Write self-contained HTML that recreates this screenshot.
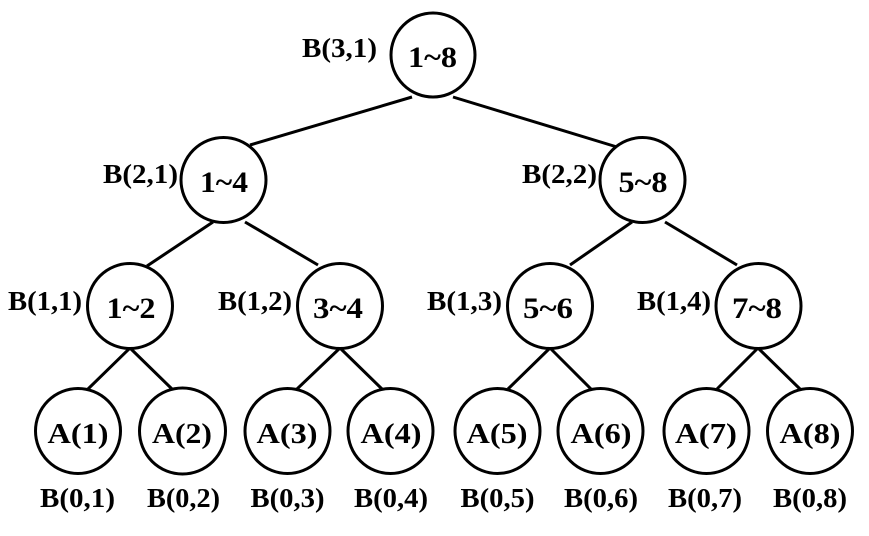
<!DOCTYPE html>
<html>
<head>
<meta charset="utf-8">
<style>
html,body{margin:0;padding:0;background:#fff;}
svg{display:block;}
text{font-family:"Liberation Serif",serif;font-weight:bold;fill:#000;}
</style>
</head>
<body>
<svg width="869" height="536" viewBox="0 0 869 536" xmlns="http://www.w3.org/2000/svg">
<g stroke="#000" stroke-width="3" fill="none" stroke-linecap="butt">
<line x1="412" y1="97" x2="250" y2="145"/>
<line x1="453" y1="97" x2="617" y2="147"/>
<line x1="213" y1="222" x2="147" y2="266"/>
<line x1="245" y1="222" x2="318" y2="265"/>
<line x1="632" y1="222" x2="570" y2="265"/>
<line x1="665" y1="222" x2="737" y2="265"/>
<line x1="130" y1="348" x2="88" y2="389"/>
<line x1="130" y1="348" x2="172" y2="389"/>
<line x1="340" y1="348" x2="297" y2="389"/>
<line x1="340" y1="348" x2="382" y2="389"/>
<line x1="550" y1="348" x2="508" y2="389"/>
<line x1="550" y1="348" x2="591" y2="389"/>
<line x1="758" y1="348" x2="717" y2="389"/>
<line x1="758" y1="348" x2="800" y2="389"/>
<circle cx="433" cy="55" r="42"/>
<circle cx="223.5" cy="180" r="42.5"/>
<circle cx="642.5" cy="180" r="42.5"/>
<circle cx="130" cy="306" r="42.5"/>
<circle cx="340" cy="306" r="42.5"/>
<circle cx="550" cy="306" r="42.5"/>
<circle cx="758.5" cy="306" r="42.5"/>
<circle cx="78" cy="431" r="42.5"/>
<circle cx="182.5" cy="431" r="43"/>
<circle cx="287.5" cy="431" r="42.5"/>
<circle cx="390.5" cy="431" r="42.5"/>
<circle cx="497.5" cy="431" r="42.5"/>
<circle cx="600.5" cy="431" r="42.5"/>
<circle cx="706.5" cy="431" r="42.5"/>
<circle cx="810" cy="431" r="42.5"/>
</g>
<g font-size="30" text-anchor="middle">
<text x="432.5" y="67" textLength="49" lengthAdjust="spacingAndGlyphs">1~8</text>
<text x="224" y="192" textLength="48" lengthAdjust="spacingAndGlyphs">1~4</text>
<text x="643" y="192" textLength="49" lengthAdjust="spacingAndGlyphs">5~8</text>
<text x="131" y="318" textLength="49" lengthAdjust="spacingAndGlyphs">1~2</text>
<text x="338" y="318" textLength="50" lengthAdjust="spacingAndGlyphs">3~4</text>
<text x="548" y="318" textLength="50" lengthAdjust="spacingAndGlyphs">5~6</text>
<text x="757" y="318" textLength="50" lengthAdjust="spacingAndGlyphs">7~8</text>
</g>
<g font-size="29" text-anchor="middle">
<text x="78" y="443" textLength="61" lengthAdjust="spacingAndGlyphs">A(1)</text>
<text x="182" y="443" textLength="60" lengthAdjust="spacingAndGlyphs">A(2)</text>
<text x="287" y="443" textLength="61" lengthAdjust="spacingAndGlyphs">A(3)</text>
<text x="391" y="443" textLength="61" lengthAdjust="spacingAndGlyphs">A(4)</text>
<text x="497" y="443" textLength="61" lengthAdjust="spacingAndGlyphs">A(5)</text>
<text x="601" y="443" textLength="61" lengthAdjust="spacingAndGlyphs">A(6)</text>
<text x="706" y="443" textLength="62" lengthAdjust="spacingAndGlyphs">A(7)</text>
<text x="810" y="443" textLength="61" lengthAdjust="spacingAndGlyphs">A(8)</text>
</g>
<g font-size="27" text-anchor="middle">
<text x="339.5" y="57" textLength="75" lengthAdjust="spacingAndGlyphs">B(3,1)</text>
<text x="140.5" y="183" textLength="75" lengthAdjust="spacingAndGlyphs">B(2,1)</text>
<text x="559.5" y="183" textLength="75" lengthAdjust="spacingAndGlyphs">B(2,2)</text>
<text x="45" y="310" textLength="74" lengthAdjust="spacingAndGlyphs">B(1,1)</text>
<text x="255" y="310" textLength="74" lengthAdjust="spacingAndGlyphs">B(1,2)</text>
<text x="464.5" y="310" textLength="75" lengthAdjust="spacingAndGlyphs">B(1,3)</text>
<text x="674" y="310" textLength="74" lengthAdjust="spacingAndGlyphs">B(1,4)</text>
<text x="77.5" y="507" textLength="75" lengthAdjust="spacingAndGlyphs">B(0,1)</text>
<text x="183.5" y="507" textLength="73" lengthAdjust="spacingAndGlyphs">B(0,2)</text>
<text x="287.5" y="507" textLength="74" lengthAdjust="spacingAndGlyphs">B(0,3)</text>
<text x="391" y="507" textLength="74" lengthAdjust="spacingAndGlyphs">B(0,4)</text>
<text x="497.5" y="507" textLength="74" lengthAdjust="spacingAndGlyphs">B(0,5)</text>
<text x="601" y="507" textLength="74" lengthAdjust="spacingAndGlyphs">B(0,6)</text>
<text x="705" y="507" textLength="74" lengthAdjust="spacingAndGlyphs">B(0,7)</text>
<text x="810" y="507" textLength="74" lengthAdjust="spacingAndGlyphs">B(0,8)</text>
</g>
</svg>
</body>
</html>
